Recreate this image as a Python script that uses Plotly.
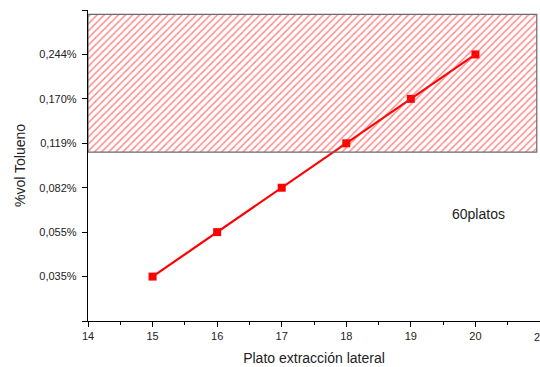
import plotly.graph_objects as go

# Side-draw tray position and toluene content in that stream
plato = [15, 16, 17, 18, 19, 20]
tolueno = [0.035, 0.055, 0.082, 0.119, 0.170, 0.244]

# Out-of-spec band (drawn on the overlaid linear axis, in category-index units)
banda_x = [14, 20.95]
banda_y = [2.8, 5.9]

etiquetas = [f"{v:.3f}%".replace(".", ",") for v in tolueno]

fig = go.Figure()

# hatched out-of-spec zone
fig.add_trace(go.Scatter(
    x=[banda_x[0], banda_x[1], banda_x[1], banda_x[0], banda_x[0]],
    y=[banda_y[0], banda_y[0], banda_y[1], banda_y[1], banda_y[0]],
    yaxis="y2", mode="lines", fill="toself",
    fillcolor="rgba(255,255,255,0)",
    fillpattern=dict(shape="/", fgcolor="#ff1a1a", size=5, solidity=0.3,
                     bgcolor="rgba(255,255,255,0)"),
    line=dict(color="#6a6a6a", width=1.2),
    hoverinfo="skip", showlegend=False,
))

# toluene vs. tray
fig.add_trace(go.Scatter(
    x=plato, y=etiquetas, mode="lines+markers",
    line=dict(color="#ff0000", width=2.2),
    marker=dict(symbol="square", size=8, color="#ff0000"),
    showlegend=False,
))

fig.add_annotation(
    x=20.04, y=1.4, xref="x", yref="y2", text="60platos", showarrow=False,
    font=dict(family="Liberation Sans, Arial, sans-serif", size=14, color="#222"),
)
# last x tick label, partly beyond the page edge
fig.add_annotation(
    x=21, y=0, xref="x", yref="paper", yanchor="top", yshift=-8,
    text="21", showarrow=False,
    font=dict(family="Liberation Sans, Arial, sans-serif", size=11, color="#222"),
)

fuente = dict(family="Liberation Sans, Arial, sans-serif", size=11, color="#222")

fig.update_layout(
    width=540, height=367,
    margin=dict(l=88, r=0, t=10, b=46),
    paper_bgcolor="white", plot_bgcolor="white",
    font=fuente,
    xaxis=dict(
        range=[14, 21], tick0=14, dtick=1,
        showgrid=False, zeroline=False,
        showline=True, linecolor="black", linewidth=1.3,
        ticks="outside", ticklen=5, tickwidth=1.2, tickcolor="black",
        tickfont=fuente,
        minor=dict(ticks="outside", ticklen=3, tickwidth=1.2,
                   tickcolor="black", dtick=0.5, tick0=14, showgrid=False),
        title=dict(text="Plato extracción lateral",
                   font=dict(family="Liberation Sans, Arial, sans-serif",
                             size=14, color="#222"),
                   standoff=11),
    ),
    yaxis=dict(
        type="category", categoryarray=etiquetas, range=[-1, 6],
        showgrid=False, zeroline=False,
        showline=True, linecolor="black", linewidth=1.3,
        ticks="outside", ticklen=5, tickwidth=1.2, tickcolor="black",
        tickfont=fuente, ticklabelstandoff=3,
        title=dict(text="%vol Tolueno",
                   font=dict(family="Liberation Sans, Arial, sans-serif",
                             size=14, color="#222"),
                   standoff=10),
    ),
    yaxis2=dict(
        overlaying="y", side="left", range=[-1, 6],
        tickvals=[-1, 6], ticktext=["", ""],
        showgrid=False, zeroline=False, showline=False,
        ticks="outside", ticklen=5, tickwidth=1.2, tickcolor="black",
    ),
)

fig.write_html("out.html")
